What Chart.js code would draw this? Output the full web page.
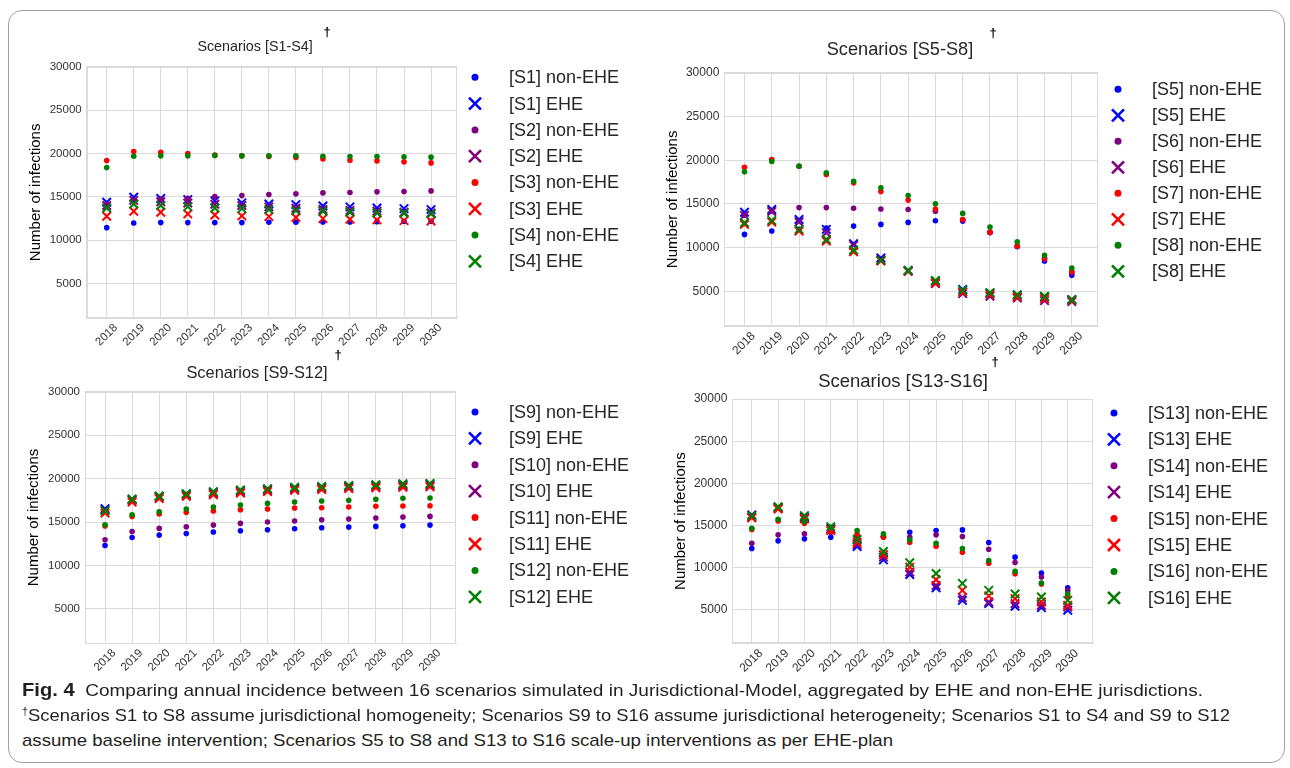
<!DOCTYPE html>
<html><head><meta charset="utf-8">
<script src="https://cdn.jsdelivr.net/npm/chart.js@4.4.1/dist/chart.umd.min.js"></script>
<style>
body{margin:0;background:#fff;width:1290px;height:768px;overflow:hidden;position:relative;font-family:"Liberation Sans",Arial,sans-serif;}
.frame{position:absolute;left:8px;top:10px;width:1277px;height:753px;border:1px solid #a0a0a0;border-radius:14px;box-sizing:border-box;}
canvas{position:absolute;}
.cap{position:absolute;left:22px;white-space:nowrap;font-size:17px;line-height:20px;color:#231f20;transform-origin:0 50%;}
.cap b{font-size:18px;}
.cap sup{font-size:10px;vertical-align:6px;line-height:0;}
</style></head><body>
<div class="frame"></div>
<canvas id="c1" width="640" height="348" style="left:10px;top:12px"></canvas>
<canvas id="c2" width="630" height="348" style="left:655px;top:12px"></canvas>
<canvas id="c3" width="640" height="345" style="left:10px;top:345px"></canvas>
<canvas id="c4" width="630" height="345" style="left:655px;top:345px"></canvas>
<div class="cap" id="cap1" style="top:680px"><b>Fig. 4</b>&nbsp; Comparing annual incidence between 16 scenarios simulated in Jurisdictional-Model, aggregated by EHE and non-EHE jurisdictions.</div>
<div class="cap" id="cap2" style="top:706px"><sup>†</sup>Scenarios S1 to S8 assume jurisdictional homogeneity; Scenarios S9 to S16 assume jurisdictional heterogeneity; Scenarios S1 to S4 and S9 to S12</div>
<div class="cap" id="cap3" style="top:731px">assume baseline intervention; Scenarios S5 to S8 and S13 to S16 scale-up interventions as per EHE-plan</div>
<script>
// ---------- DATA ----------
const years = [2018,2019,2020,2021,2022,2023,2024,2025,2026,2027,2028,2029,2030];
const yearLabels = years.map(String);
const yTicks = [5000,10000,15000,20000,25000,30000];

// Scenarios S1-S4
const s1NonEHE = [11460,12000,12040,12040,12040,12040,12080,12080,12110,12110,12150,12190,12190];
const s1EHE    = [14380,14960,14810,14690,14540,14310,14190,14110,13960,13850,13730,13650,13540];
const s2NonEHE = [14100,14600,14750,14850,15040,15150,15270,15350,15460,15500,15580,15620,15690];
const s2EHE    = [14000,14600,14450,14300,14150,14000,13850,13700,13550,13450,13350,13250,13150];
const s3NonEHE = [19190,20230,20150,20000,19810,19730,19650,19540,19380,19230,19150,19040,18920];
const s3EHE    = [12770,13350,13230,13040,12920,12810,12730,12620,12500,12420,12350,12270,12230];
const s4NonEHE = [18380,19690,19730,19730,19770,19730,19730,19730,19690,19650,19650,19620,19580];
const s4EHE    = [13730,14190,14000,13880,13730,13650,13540,13420,13350,13230,13150,13120,13040];

// Scenarios S5-S8
const s5NonEHE = [11520,11900,12100,12240,12470,12660,12890,13080,13040,11700,10100,8480,6840];
const s5EHE    = [14050,14370,13220,12090,10460,8820,7410,6180,5230,4810,4560,4370,4070];
const s6NonEHE = [13700,14200,14580,14580,14510,14430,14360,14170,13200,11800,10200,8700,7100];
const s6EHE    = [13690,14140,12930,11710,10270,8630,7300,5900,4750,4450,4250,3950,3850];
const s7NonEHE = [19200,20080,19300,18360,17410,16430,15440,14410,13230,11750,10180,8780,7300];
const s7EHE    = [12660,12930,11900,10760,9540,8480,7300,6000,4940,4680,4370,4180,4000];
const s8NonEHE = [18670,19850,19320,18560,17600,16840,15970,15020,13920,12360,10680,9120,7680];
const s8EHE    = [12850,13120,12090,10950,9730,8550,7400,6250,5130,4870,4640,4450,4070];

// Scenarios S9-S12
const s9NonEHE  = [12310,13230,13500,13690,13850,14000,14120,14230,14350,14420,14500,14580,14650];
const s9EHE     = [16550,17600,17950,18200,18400,18600,18750,18900,19000,19100,19200,19300,19350];
const s10NonEHE = [12960,13920,14270,14460,14650,14850,15000,15120,15270,15350,15460,15580,15650];
const s10EHE    = [16350,17500,17850,18100,18300,18500,18650,18800,18900,19000,19100,19150,19200];
const s11NonEHE = [14540,15650,15920,16120,16270,16420,16500,16620,16650,16730,16810,16850,16880];
const s11EHE    = [16050,17300,17700,17950,18150,18350,18500,18650,18750,18850,18950,19000,19050];
const s12NonEHE = [14690,15850,16190,16500,16730,16960,17150,17310,17420,17500,17620,17730,17770];
const s12EHE    = [16300,17650,18000,18250,18500,18700,18850,19000,19100,19200,19300,19400,19450];

// Scenarios S13-S16
const s13NonEHE = [12280,13190,13430,13620,13600,13700,14210,14410,14490,12990,11260,9370,7640];
const s13EHE    = [16260,17170,15980,14610,12520,10940,9210,7640,6140,5750,5430,5280,4960];
const s14NonEHE = [12910,13900,14020,14200,13800,13700,13620,13900,13700,12200,10630,8900,7320];
const s14EHE    = [15980,17090,15910,14610,12760,11260,9490,7910,6460,5940,5750,5550,5350];
const s15NonEHE = [14530,15550,15280,14400,14010,13620,13030,12560,11850,10550,9290,8070,6600];
const s15EHE    = [15910,16970,15790,14410,13030,11540,10080,8580,7320,6670,6340,5940,5550];
const s16NonEHE = [14690,15750,15470,14800,14410,14020,13310,12910,12280,10870,9570,8190,6930];
const s16EHE    = [16180,17240,16180,14880,13350,11930,10590,9330,8150,7320,6890,6540,6140];

const panelTitles = ['Scenarios [S1-S4]','Scenarios [S5-S8]','Scenarios [S9-S12]','Scenarios [S13-S16]'];
const scenarioNames = [['S1','S2','S3','S4'],['S5','S6','S7','S8'],['S9','S10','S11','S12'],['S13','S14','S15','S16']];
const yAxisTitle = 'Number of infections';

// ---------- STYLE ----------
const COLORS = ['#0000ff','#800080','#ff0000','#008000'];
const GRID = '#dadada';
const FONT = '"Liberation Sans", Arial, sans-serif';

function makeSets(names, pairs) {
  const sets = [];
  names.forEach((n, k) => {
    const [non, ehe] = pairs[k];
    sets.push({label: '[' + n + '] non-EHE', data: years.map((x,i)=>({x, y: non[i]})),
      pointStyle: 'circle', pointRadius: 2.8, backgroundColor: COLORS[k], borderColor: COLORS[k], borderWidth: 0});
    sets.push({label: '[' + n + '] EHE', data: years.map((x,i)=>({x, y: ehe[i]})),
      pointStyle: 'crossRot', pointRadius: 6, backgroundColor: COLORS[k], borderColor: COLORS[k], borderWidth: 2});
  });
  sets.forEach((s, i) => { s.order = sets.length - i; s.showLine = false; });
  return sets;
}

const deco = {
  id: 'deco',
  beforeDatasetsDraw(chart) {
    const {ctx, chartArea: a} = chart;
    ctx.save();
    ctx.strokeStyle = GRID; ctx.lineWidth = 1;
    ctx.strokeRect(Math.round(a.left)+0.5, Math.round(a.top)+0.5, Math.round(a.right-a.left)-1, Math.round(a.bottom-a.top)-1);
    ctx.restore();
  },
  afterDraw(chart, args, o) {
    const {ctx} = chart;
    ctx.save();
    ctx.fillStyle = '#262626';
    ctx.textAlign = 'center'; ctx.textBaseline = 'middle';
    ctx.font = o.titleSize + 'px ' + FONT;
    ctx.fillText(o.title, o.titleX, o.titleY);
    ctx.fillStyle = '#000';
    ctx.font = 'bold 13px ' + FONT;
    ctx.fillText('\u2020', o.dagX, o.dagY);
    // legend
    chart.data.datasets.forEach((ds, i) => {
      const y = o.legY + i * o.legDy;
      ctx.fillStyle = ds.backgroundColor; ctx.strokeStyle = ds.borderColor;
      if (ds.pointStyle === 'circle') {
        ctx.beginPath(); ctx.arc(o.legMX, y, 3.5, 0, 2*Math.PI); ctx.fill();
      } else {
        const h = 6; ctx.lineWidth = 2.6;
        ctx.beginPath();
        ctx.moveTo(o.legMX-h, y-h); ctx.lineTo(o.legMX+h, y+h);
        ctx.moveTo(o.legMX-h, y+h); ctx.lineTo(o.legMX+h, y-h);
        ctx.stroke();
      }
      ctx.fillStyle = '#262626';
      ctx.font = '18px ' + FONT; ctx.textAlign = 'left'; ctx.textBaseline = 'middle';
      ctx.fillText(ds.label, o.legTX, y + 1);
    });
    ctx.restore();
  }
};

function makePanel(id, sets, L) {
  new Chart(document.getElementById(id), {
    type: 'scatter',
    data: {datasets: sets},
    options: {
      responsive: false, animation: false, devicePixelRatio: 1,
      layout: {padding: L.pad},
      plugins: {legend: {display: false}, tooltip: {enabled: false}, title: {display: false},
        deco: L.deco},
      scales: {
        x: {type: 'linear', min: 2017.26, max: 2030.96,
          afterBuildTicks: s => { s.ticks = years.map(v => ({value: v})); },
          afterFit: s => { s.height = L.xH; },
          grid: {color: GRID, drawTicks: false, lineWidth: 1},
          border: {color: GRID},
          ticks: {autoSkip: false, minRotation: 45, maxRotation: 45, padding: L.xPad, labelOffset: L.xOff,
            color: '#333', font: {family: FONT, size: L.tick},
            callback: (v, i) => yearLabels[i]}
        },
        y: {min: 1050, max: 30000,
          afterBuildTicks: s => { s.ticks = yTicks.map(v => ({value: v})); },
          afterFit: s => { s.width = 60; },
          grid: {color: GRID, drawTicks: false, lineWidth: 1},
          border: {color: GRID},
          ticks: {padding: 5, color: '#333', font: {family: FONT, size: L.tick}, callback: v => String(v)},
          title: {display: true, text: yAxisTitle, color: '#000', font: {family: FONT, size: 15}, padding: {top: L.yTitlePad, bottom: 0}}
        }
      }
    },
    plugins: [deco]
  });
}

makePanel('c1', makeSets(scenarioNames[0], [[s1NonEHE,s1EHE],[s2NonEHE,s2EHE],[s3NonEHE,s3EHE],[s4NonEHE,s4EHE]]), {
  pad: {left: 16.7, top: 54.7, right: 193, bottom: 2}, xH: 40, xPad: 3, xOff: 9, tick: 11.5, yTitlePad: 0,
  deco: {title: panelTitles[0], titleSize: 14.3, titleX: 245, titleY: 35, dagX: 317, dagY: 20,
    legMX: 465, legTX: 499, legY: 65.3, legDy: 26.3}
});
makePanel('c2', makeSets(scenarioNames[1], [[s5NonEHE,s5EHE],[s6NonEHE,s6EHE],[s7NonEHE,s7EHE],[s8NonEHE,s8EHE]]), {
  pad: {left: 9.3, top: 60.7, right: 187, bottom: 2}, xH: 32, xPad: 3, xOff: 9, tick: 12, yTitlePad: 0,
  deco: {title: panelTitles[1], titleSize: 18.2, titleX: 245, titleY: 38, dagX: 338, dagY: 21,
    legMX: 463, legTX: 497, legY: 77.3, legDy: 26}
});
makePanel('c3', makeSets(scenarioNames[2], [[s9NonEHE,s9EHE],[s10NonEHE,s10EHE],[s11NonEHE,s11EHE],[s12NonEHE,s12EHE]]), {
  pad: {left: 15, top: 46.7, right: 194, bottom: 6.7}, xH: 40, xPad: 3, xOff: 9, tick: 11.5, yTitlePad: 0,
  deco: {title: panelTitles[2], titleSize: 16.4, titleX: 247, titleY: 28, dagX: 328, dagY: 10,
    legMX: 465, legTX: 499, legY: 67, legDy: 26.4}
});
makePanel('c4', makeSets(scenarioNames[3], [[s13NonEHE,s13EHE],[s14NonEHE,s14EHE],[s15NonEHE,s15EHE],[s16NonEHE,s16EHE]]), {
  pad: {left: 17.3, top: 54, right: 192, bottom: 6.7}, xH: 40, xPad: 3, xOff: 9, tick: 12, yTitlePad: 0,
  deco: {title: panelTitles[3], titleSize: 18.5, titleX: 248, titleY: 37.3, dagX: 340, dagY: 17,
    legMX: 459, legTX: 493, legY: 68, legDy: 26.4}
});

// fit caption lines to their widths (condensed face in the original)
[['cap1', 1181], ['cap2', 1208], ['cap3', 871]].forEach(([id, w]) => {
  const el = document.getElementById(id);
  const r = w / el.getBoundingClientRect().width;
  el.style.transform = 'scaleX(' + r + ')';
});
</script>
</body></html>
